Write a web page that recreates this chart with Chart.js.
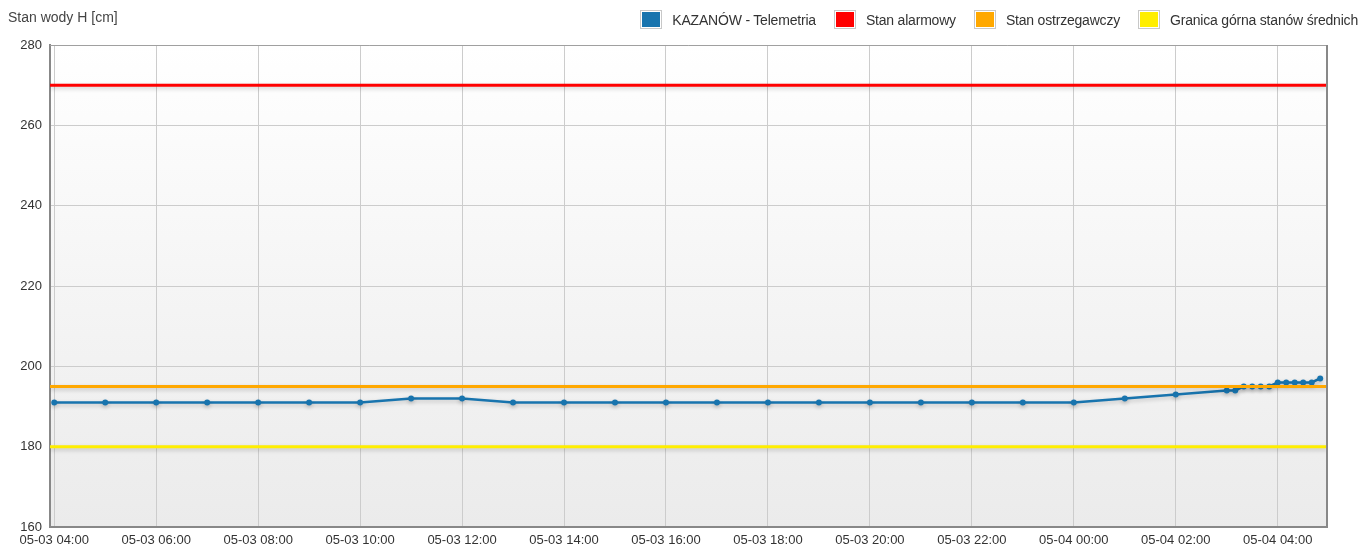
<!DOCTYPE html>
<html>
<head>
<meta charset="utf-8">
<script src="https://cdn.jsdelivr.net/npm/chart.js@4/dist/chart.umd.min.js"></script>
<style>
  body { margin: 0; background: #fff; font-family: "Liberation Sans", Arial, sans-serif; }
  #wrap { position: relative; width: 1362px; height: 547px; }
  #ytitle { position: absolute; left: 8px; top: 9px; font-size: 14px; color: #444; letter-spacing: 0px; }
  #legend { position: absolute; right: 4px; top: 10px; display: flex; font-size: 14px; color: #333; letter-spacing: -0.2px; }
  .item { display: flex; align-items: center; margin-left: 18px; }
  .box { width: 18px; height: 15px; border: 1px solid #c8c8c8; padding: 1px; background-clip: content-box; margin-right: 10px; }
</style>
</head>
<body>
<div id="wrap">
  <canvas id="chart" width="1362" height="547"></canvas>
  <div id="ytitle">Stan wody H [cm]</div>
  <div id="legend"></div>
</div>
<script>
// measurement times and water levels (cm)
const times = [
  "05-03 04:00", "05-03 05:00", "05-03 06:00", "05-03 07:00", "05-03 08:00",
  "05-03 09:00", "05-03 10:00", "05-03 11:00", "05-03 12:00", "05-03 13:00",
  "05-03 14:00", "05-03 15:00", "05-03 16:00", "05-03 17:00", "05-03 18:00",
  "05-03 19:00", "05-03 20:00", "05-03 21:00", "05-03 22:00", "05-03 23:00",
  "05-04 00:00", "05-04 01:00", "05-04 02:00", "05-04 03:00", "05-04 03:10",
  "05-04 03:20", "05-04 03:30", "05-04 03:40", "05-04 03:50", "05-04 04:00",
  "05-04 04:10", "05-04 04:20", "05-04 04:30", "05-04 04:40", "05-04 04:50"
];
const levels = [
  191, 191, 191, 191, 191,
  191, 191, 192, 192, 191,
  191, 191, 191, 191, 191,
  191, 191, 191, 191, 191,
  191, 192, 193, 194, 194,
  195, 195, 195, 195, 196,
  196, 196, 196, 196, 197
];

const alarmLevel = 270;
const warningLevel = 195;
const meanUpperLevel = 180;

const xRange = ["05-03 03:55", "05-04 04:58"];
const xTickLabels = [
  "05-03 04:00", "05-03 06:00", "05-03 08:00", "05-03 10:00", "05-03 12:00",
  "05-03 14:00", "05-03 16:00", "05-03 18:00", "05-03 20:00", "05-03 22:00",
  "05-04 00:00", "05-04 02:00", "05-04 04:00"
];
const yTicks = [160, 180, 200, 220, 240, 260, 280];

const seriesNames = ["KAZANÓW - Telemetria", "Stan alarmowy", "Stan ostrzegawczy", "Granica górna stanów średnich"];
const seriesColors = ["#1874ae", "#ff0000", "#ffa800", "#ffee00"];

// "MM-DD HH:MM" -> minutes since 05-03 00:00
function toMin(s) {
  const day = parseInt(s.slice(3, 5)) - 3;
  const h = parseInt(s.slice(6, 8));
  const m = parseInt(s.slice(9, 11));
  return day * 1440 + h * 60 + m;
}
function fromMin(v) {
  const day = 3 + Math.floor(v / 1440);
  const r = v % 1440;
  const pad = n => String(n).padStart(2, "0");
  return "05-" + pad(day) + " " + pad(Math.floor(r / 60)) + ":" + pad(r % 60);
}

const xMin = toMin(xRange[0]);
const xMax = toMin(xRange[1]);

function flat(y) {
  return [{ x: xMin, y: y }, { x: xMax, y: y }];
}

const legend = document.getElementById("legend");
seriesNames.forEach((name, i) => {
  const it = document.createElement("div");
  it.className = "item";
  it.innerHTML = '<span class="box" style="background-color:' + seriesColors[i] + '"></span>' + name;
  legend.appendChild(it);
});

const bgPlugin = {
  id: "bg",
  beforeDraw(chart) {
    const a = chart.chartArea, ctx = chart.ctx;
    const g = ctx.createLinearGradient(0, a.top, 0, a.bottom);
    g.addColorStop(0, "#ffffff");
    g.addColorStop(1, "#ebebeb");
    ctx.save();
    ctx.fillStyle = g;
    ctx.fillRect(a.left, a.top, a.right - a.left, a.bottom - a.top);
    ctx.restore();
  },
  beforeDatasetDraw(chart) {
    const ctx = chart.ctx;
    ctx.save();
    ctx.shadowColor = "rgba(0,0,0,0.2)";
    ctx.shadowOffsetY = 2;
    ctx.shadowBlur = 4;
  },
  afterDatasetDraw(chart) {
    chart.ctx.restore();
  },
  afterDraw(chart) {
    const a = chart.chartArea, ctx = chart.ctx;
    ctx.save();
    ctx.strokeStyle = "#a0a0a0";
    ctx.lineWidth = 1;
    ctx.beginPath();
    ctx.moveTo(a.left, a.top + 0.5);
    ctx.lineTo(a.right, a.top + 0.5);
    ctx.stroke();
    ctx.strokeStyle = "#888";
    ctx.lineWidth = 2;
    ctx.beginPath();
    ctx.moveTo(a.right, a.top);
    ctx.lineTo(a.right, a.bottom);
    ctx.stroke();
    ctx.restore();
  }
};

new Chart(document.getElementById("chart"), {
  type: "line",
  data: {
    datasets: [
      {
        label: seriesNames[0],
        data: times.map((t, i) => ({ x: toMin(t), y: levels[i] })),
        borderColor: seriesColors[0],
        backgroundColor: seriesColors[0],
        borderWidth: 2.5,
        pointRadius: 3,
        pointBorderWidth: 0,
        tension: 0,
        order: 2
      },
      {
        label: seriesNames[1], data: flat(alarmLevel),
        borderColor: seriesColors[1], borderWidth: 3, pointRadius: 0, order: 1
      },
      {
        label: seriesNames[2], data: flat(warningLevel),
        borderColor: seriesColors[2], borderWidth: 3, pointRadius: 0, order: 1
      },
      {
        label: seriesNames[3], data: flat(meanUpperLevel),
        borderColor: seriesColors[3], borderWidth: 3, pointRadius: 0, order: 1
      }
    ]
  },
  options: {
    responsive: false,
    animation: false,
    layout: { padding: { top: 45, right: 35, left: 0, bottom: 0 } },
    plugins: { legend: { display: false }, tooltip: { enabled: false } },
    scales: {
      x: {
        type: "linear",
        min: xMin,
        max: xMax,
        afterBuildTicks(scale) {
          scale.ticks = xTickLabels.map(t => ({ value: toMin(t) }));
        },
        afterFit(scale) { scale.height = 20; },
        ticks: {
          callback: v => fromMin(v),
          maxRotation: 0,
          autoSkip: false,
          padding: 6,
          color: "#333",
          font: { family: "'Liberation Sans', Arial", size: 13 }
        },
        grid: { color: "#cccccc", drawTicks: false },
        border: { color: "#888", width: 2 }
      },
      y: {
        min: 160,
        max: 280,
        afterBuildTicks(scale) {
          scale.ticks = yTicks.map(v => ({ value: v }));
        },
        afterFit(scale) { scale.width = 50; },
        ticks: {
          padding: 8,
          color: "#333",
          font: { family: "'Liberation Sans', Arial", size: 13 }
        },
        grid: { color: "#cccccc", drawTicks: false },
        border: { color: "#888", width: 2 }
      }
    }
  },
  plugins: [bgPlugin]
});
</script>
</body>
</html>
